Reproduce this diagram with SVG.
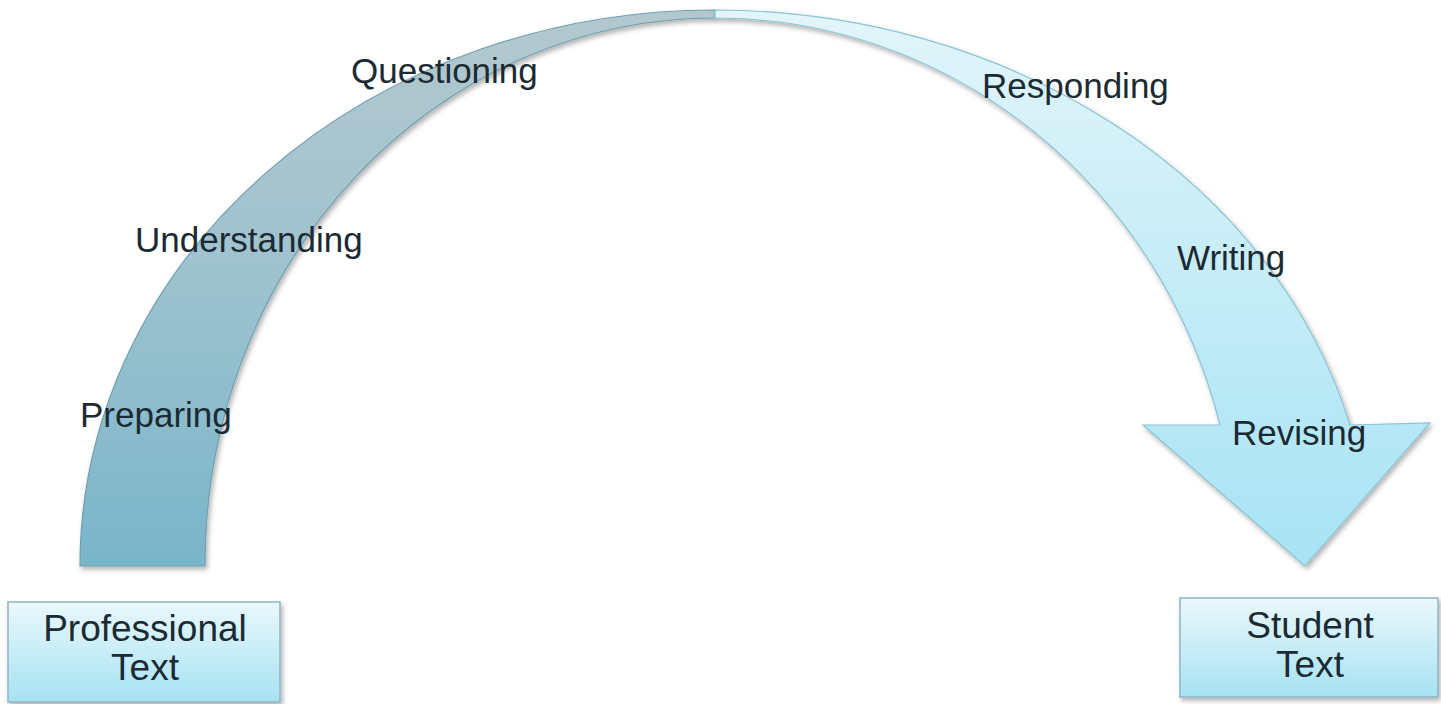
<svg xmlns="http://www.w3.org/2000/svg" width="1441" height="704" viewBox="0 0 1441 704">
  <defs>
    <linearGradient id="gLeft" x1="0" y1="10" x2="0" y2="568" gradientUnits="userSpaceOnUse">
      <stop offset="0" stop-color="#b3c8ce"/>
      <stop offset="0.45" stop-color="#9fc3cf"/>
      <stop offset="1" stop-color="#79b5ca"/>
    </linearGradient>
    <linearGradient id="gRight" x1="0" y1="10" x2="0" y2="566" gradientUnits="userSpaceOnUse">
      <stop offset="0" stop-color="#e2f5fa"/>
      <stop offset="0.5" stop-color="#c4ecf7"/>
      <stop offset="1" stop-color="#a8e3f5"/>
    </linearGradient>
    <linearGradient id="gBox" x1="0" y1="0" x2="0" y2="1">
      <stop offset="0" stop-color="#eaf8fc"/>
      <stop offset="1" stop-color="#a6e2f3"/>
    </linearGradient>
    <filter id="shadow" x="-10%" y="-10%" width="120%" height="120%">
      <feDropShadow dx="2" dy="3" stdDeviation="2.5" flood-color="#000" flood-opacity="0.3"/>
    </filter>
  </defs>
  <style>
    .lbl { font-family: "Liberation Sans", Arial, sans-serif; font-size: 35px; fill: #1b2a33; }
    .box { fill: url(#gBox); stroke: #8fb6c2; stroke-width: 1.5; filter: url(#shadow); }
    .boxtxt { font-family: "Liberation Sans", Arial, sans-serif; font-size: 37px; fill: #1b2a33; text-anchor: middle; }
  </style>
  <rect width="1441" height="704" fill="#ffffff"/>

  <g id="connectors">
    <path id="arc-left" d="M 80 566 A 635 556 0 0 1 715 10 L 715 18 A 510 547 0 0 0 205 566 Z" fill="url(#gLeft)" stroke="#6f9fb0" stroke-width="1.2" filter="url(#shadow)"/>
    <path id="arc-right" d="M 715 10 A 656 555 0 0 1 1350 425 L 1430 423 L 1305 566 L 1143 425 L 1220 425 A 522 547 0 0 0 715 18 Z" fill="url(#gRight)" stroke="#8cc3d3" stroke-width="1.2" filter="url(#shadow)"/>
  </g>

  <g id="labels">
    <text class="lbl" x="351" y="83">Questioning</text>
    <text class="lbl" x="135" y="252">Understanding</text>
    <text class="lbl" x="80" y="427">Preparing</text>
    <text class="lbl" x="982" y="98">Responding</text>
    <text class="lbl" x="1177" y="270">Writing</text>
    <text class="lbl" x="1232" y="445">Revising</text>
  </g>

  <g id="professional-text">
    <rect class="box" x="8" y="602" width="272" height="100"/>
    <text class="boxtxt" x="145" y="641">Professional</text>
    <text class="boxtxt" x="145" y="680">Text</text>
  </g>

  <g id="student-text">
    <rect class="box" x="1180" y="598" width="258" height="99"/>
    <text class="boxtxt" x="1310" y="638">Student</text>
    <text class="boxtxt" x="1310" y="677">Text</text>
  </g>
</svg>
